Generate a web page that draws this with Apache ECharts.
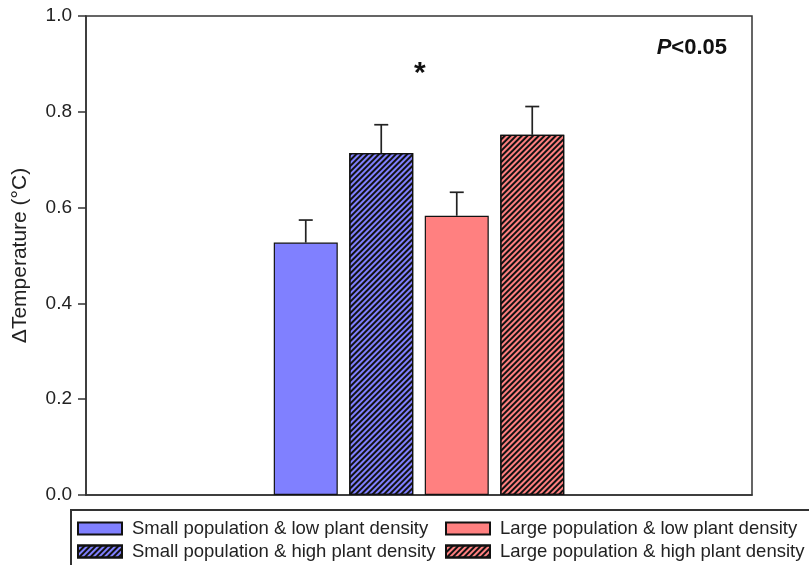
<!DOCTYPE html>
<html>
<head>
<meta charset="utf-8">
<script src="https://cdn.jsdelivr.net/npm/echarts@6/dist/echarts.min.js"></script>
<style>html,body{margin:0;padding:0;background:#fff}#c{width:809px;height:565px}</style>
</head>
<body>
<div id="c"></div>
<script>
// ---- data ----
const categories = ['group'];
const seriesNames = [
  'Small population & low plant density',
  'Small population & high plant density',
  'Large population & low plant density',
  'Large population & high plant density'
];
const means = [0.527, 0.714, 0.583, 0.752];
const errors = [0.047, 0.059, 0.049, 0.059];
const yTicks = [0.0, 0.2, 0.4, 0.6, 0.8, 1.0];
const annotationStar = '*';
const annotationP = 'P<0.05';

// ---- style ----
const colors = ['#8080FF', '#8080FF', '#FF8080', '#FF8080'];
const hatched = [false, true, false, true];
const BAR_W = 64, GAP = 11.5;
const FONT = '"Liberation Sans", Arial, sans-serif';

const chart = echarts.init(document.getElementById('c'), null, {renderer: 'canvas'});

const hatchDecal = {
  symbol: 'rect', symbolSize: 1,
  dashArrayX: [[1, 0]], dashArrayY: [1.2, 1.9],
  rotation: -Math.PI / 4, color: '#111', backgroundColor: null
};

const series = seriesNames.map((name, i) => {
  const itemStyle = {color: colors[i], borderColor: '#111', borderWidth: 1.2};
  if (hatched[i]) itemStyle.decal = hatchDecal;
  return {
    name: name,
    type: 'bar',
    barWidth: BAR_W,
    barGap: (GAP / BAR_W * 100) + '%',
    data: [means[i]],
    itemStyle: itemStyle,
    emphasis: {disabled: true},
    z: 2
  };
});

series.push({
  type: 'custom',
  name: 'err',
  z: 1,
  data: means.map((m, i) => [0, m, m + errors[i], i]),
  renderItem: function (params, api) {
    const i = api.value(3);
    const base = api.coord([api.value(0), api.value(1)]);
    const top = api.coord([api.value(0), api.value(2)]);
    const x = base[0] + (i - (means.length - 1) / 2) * (BAR_W + GAP);
    const cap = 7;
    const st = {stroke: '#222', lineWidth: 1.7};
    return {
      type: 'group',
      children: [
        {type: 'line', shape: {x1: x, y1: base[1], x2: x, y2: top[1]}, style: st},
        {type: 'line', shape: {x1: x - cap, y1: top[1], x2: x + cap, y2: top[1]}, style: st}
      ]
    };
  },
  encode: {x: 0, y: 1},
  silent: true
});

const legendCommon = {
  orient: 'vertical',
  height: 60,
  padding: 0,
  icon: 'rect',
  itemWidth: 44, itemHeight: 12, itemGap: 4,
  textStyle: {fontFamily: FONT, fontSize: 18.5, color: '#222', lineHeight: 15, padding: [0, 0, 0, 5]},
  selectedMode: false
};

chart.setOption({
  animation: false,
  backgroundColor: '#fff',
  grid: {left: 86, right: 57, top: 16, bottom: 70, show: true, borderColor: '#333', borderWidth: 1.5, backgroundColor: 'transparent'},
  xAxis: {
    type: 'category', data: categories,
    axisLine: {show: true, lineStyle: {color: '#333', width: 1.5}},
    axisTick: {show: false}, axisLabel: {show: false}, splitLine: {show: false}
  },
  yAxis: {
    type: 'value', min: yTicks[0], max: yTicks[yTicks.length - 1], interval: 0.2,
    name: 'ΔTemperature (°C)', nameLocation: 'middle', nameGap: 55,
    nameTextStyle: {fontFamily: FONT, fontSize: 21, color: '#222'},
    axisLine: {show: true, lineStyle: {color: '#333', width: 1.5}},
    axisTick: {show: true, inside: false, length: 8, lineStyle: {color: '#333', width: 1.5}},
    axisLabel: {fontFamily: FONT, fontSize: 19, color: '#222', margin: 14, formatter: v => v.toFixed(1)},
    splitLine: {show: false}
  },
  legend: [
    Object.assign({}, legendCommon, {left: 77, top: 519, data: seriesNames.slice(0, 2)}),
    Object.assign({}, legendCommon, {left: 445, top: 519, data: seriesNames.slice(2, 4)})
  ],
  graphic: [
    {type: 'rect', left: 70, top: 509, z: -1, shape: {width: 760, height: 80},
     style: {fill: '#fff', stroke: '#333', lineWidth: 2}},
    {type: 'text', left: 414, top: 59, style: {text: annotationStar, font: 'bold 30px ' + FONT, fill: '#111'}},
    {type: 'text', right: 82, top: 37, style: {
      text: '{i|P}{b|' + annotationP.slice(1) + '}',
      rich: {
        i: {font: 'italic bold 22px ' + FONT, fill: '#111'},
        b: {font: 'bold 22px ' + FONT, fill: '#111'}
      }
    }}
  ],
  series: series
});
</script>
</body>
</html>
